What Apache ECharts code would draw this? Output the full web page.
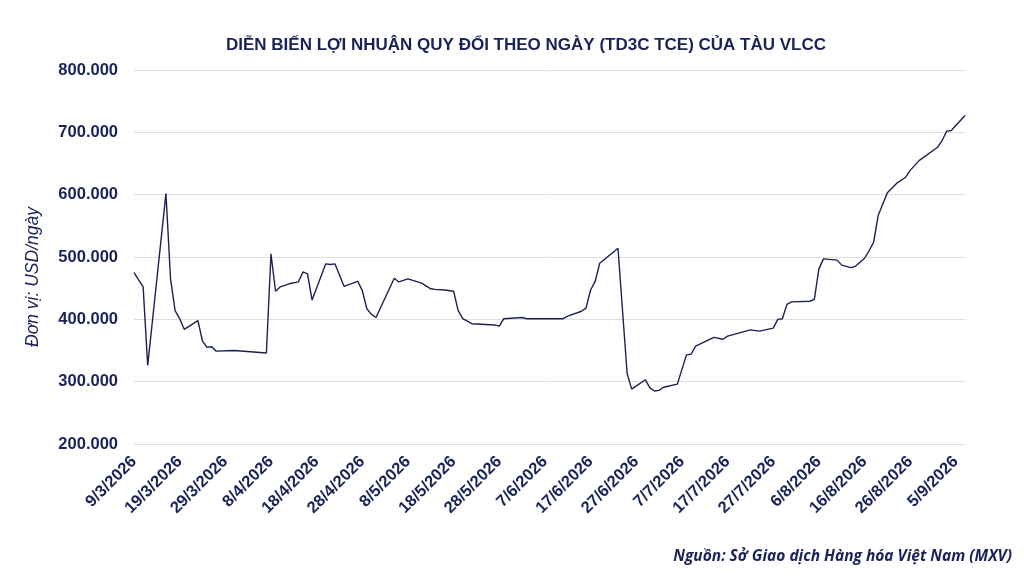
<!DOCTYPE html>
<html lang="vi">

<head>
  <meta charset="UTF-8">
  <title>TD3C TCE VLCC</title>
  <style>
    html, body { margin: 0; padding: 0; background: #fff; }
    #chart { width: 1024px; height: 577px; }
  </style>
</head>

<body>
  <div id="chart"></div>

  <script src="https://cdn.jsdelivr.net/npm/echarts@6/dist/echarts.min.js"></script>
  <script>
    // ngày bắt đầu trục hoành
    var startDate = new Date(2026, 2, 9);
    var lastDay = 182;

    // số ngày tính từ 9/3/2026 của các điểm quan sát
    var obsDays = [0, 2, 3, 7, 8, 9, 10, 11, 14, 15, 16, 17, 18, 22, 29, 30, 31, 32, 34, 36,
      37, 38, 39, 42, 43, 44, 46, 49, 50, 51, 52, 53, 57, 58, 60, 63, 65, 66, 68, 70,
      71, 72, 74, 79, 80, 81, 85, 86, 94, 95, 98, 99, 100, 101, 102, 106, 108, 109, 112, 113,
      114, 115, 116, 119, 121, 122, 123, 127, 129, 130, 135, 137, 140, 141, 142, 143, 144, 148, 149, 150,
      151, 154, 155, 157, 158, 160, 161, 162, 163, 165, 167, 169, 170, 172, 176, 177, 178, 179, 182];

    // lợi nhuận quy đổi (USD/ngày)
    var obsValues = [475000, 452000, 326000, 602000, 465000, 414000, 401000, 384000, 398000, 365000,
      355000, 356000, 349000, 350000, 346000, 505000, 445000, 452000, 457000, 460000,
      476000, 473000, 431000, 489000, 488000, 489000, 453000, 461000, 446000, 417000,
      408000, 403000, 466000, 460000, 465000, 458000, 449000, 448000, 447000, 445000,
      414000, 401000, 393000, 391000, 389000, 401000, 403000, 401000, 401000, 405000,
      413000, 418000, 447000, 461000, 490000, 514000, 313000, 288000, 303000, 290000,
      285000, 286000, 291000, 296000, 343000, 344000, 357000, 371000, 368000, 373000,
      383000, 381000, 386000, 400000, 401000, 424000, 428000, 429000, 432000, 481000,
      497000, 495000, 487000, 483000, 485000, 498000, 510000, 524000, 567000, 603000,
      618000, 628000, 639000, 655000, 676000, 687000, 702000, 703000, 727000];

    var textColor = '#1a2358';

    function dayLabel(d) {
      var t = new Date(startDate.getTime());
      t.setDate(t.getDate() + d);
      return t.getDate() + '/' + (t.getMonth() + 1) + '/' + t.getFullYear();
    }

    function dotThousands(v) {
      return String(v).replace(/\B(?=(\d{3})+(?!\d))/g, '.');
    }

    var chart = echarts.init(document.getElementById('chart'));

    var option = {
      animation: false,
      title: {
        text: 'DIỄN BIẾN LỢI NHUẬN QUY ĐỔI THEO NGÀY (TD3C TCE) CỦA TÀU VLCC',
        left: 521,
        textAlign: 'center',
        top: 32,
        textStyle: {
          color: textColor,
          fontFamily: 'Liberation Sans, Arial, sans-serif',
          fontWeight: 'bold',
          fontSize: 17
        }
      },
      grid: {
        left: 134,
        right: 59,
        top: 70,
        bottom: 133
      },
      xAxis: {
        type: 'value',
        min: 0,
        max: lastDay,
        interval: 10,
        splitLine: { show: false },
        axisLine: { show: false },
        axisTick: { show: false },
        axisLabel: {
          rotate: 45,
          margin: 15,
          showMaxLabel: false,
          color: textColor,
          fontFamily: 'Liberation Sans, Arial, sans-serif',
          fontWeight: 'bold',
          fontSize: 16.5,
          formatter: function (v) {
            return v > 180 ? '' : dayLabel(v);
          }
        }
      },
      yAxis: {
        type: 'value',
        min: 200000,
        max: 800000,
        interval: 100000,
        axisLine: { show: false },
        axisTick: { show: false },
        splitLine: {
          lineStyle: { color: '#dedede', width: 1 }
        },
        axisLabel: {
          margin: 16,
          color: textColor,
          fontFamily: 'Liberation Sans, Arial, sans-serif',
          fontWeight: 'bold',
          fontSize: 16.5,
          formatter: dotThousands
        }
      },
      graphic: [
        {
          type: 'text',
          x: 33,
          y: 277,
          rotation: Math.PI / 2,
          style: {
            text: 'Đơn vị: USD/ngày',
            fill: textColor,
            font: 'italic 17.5px "Liberation Sans", Arial, sans-serif',
            textAlign: 'center',
            textVerticalAlign: 'middle'
          }
        },
        {
          type: 'text',
          right: 12,
          top: 549,
          style: {
            text: 'Nguồn: Sở Giao dịch Hàng hóa Việt Nam (MXV)',
            fill: textColor,
            font: 'italic bold 15.5px "Open Sans", sans-serif'
          }
        }
      ],
      series: [{
        type: 'line',
        symbol: 'none',
        lineStyle: { color: '#1b2150', width: 1.4 },
        data: obsDays.map(function (d, i) { return [d, obsValues[i]]; })
      }]
    };

    chart.setOption(option);
  </script>
</body>

</html>
